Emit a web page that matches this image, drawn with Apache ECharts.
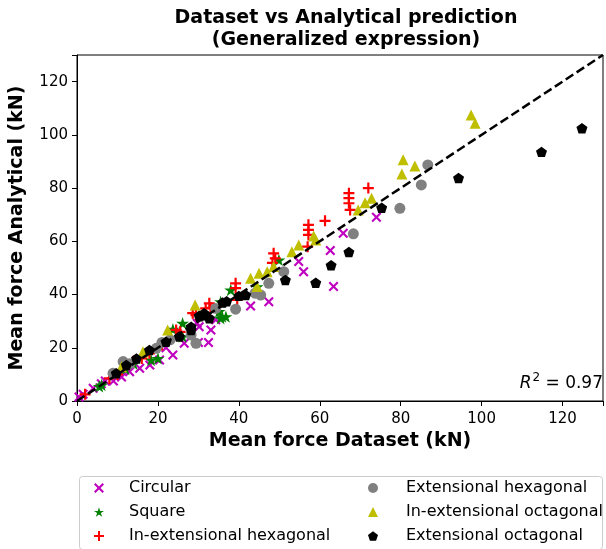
<!DOCTYPE html>
<html>
<head>
<meta charset="utf-8">
<script src="https://cdn.jsdelivr.net/npm/echarts@6/dist/echarts.min.js"></script>
<style>
    body { margin: 0; background: #fff; }
    #main { width: 606px; height: 549px; }
</style>
</head>
<body>
<div id="main"></div>
<script>
// data: [dataset, analytical]
var circular = [[0.5, 1.5], [1.5, 2.5], [4, 4.8], [6, 6.5], [7, 7.5], [9, 7.5], [11, 9], [13, 11], [15.5, 12.3], [18, 13.5],
    [20.4, 15.4], [23.7, 17.3], [22, 20], [26.5, 21.7], [30, 22], [32.5, 22], [30.2, 27.9], [33.1, 26.7], [34.3, 30.5],
    [29.7, 29.2], [42.9, 35.7], [47.4, 37.3], [54.8, 52.4], [56, 48.6], [62.6, 56.5], [63.4, 43], [65.8, 63], [74, 69]];
var square = [[5.5, 5.5], [6.1, 6], [12, 12], [14, 14], [18.3, 15.4], [20, 16], [23.7, 27], [26.1, 29.2], [26.1, 24.2],
    [35.1, 33.6], [35.5, 31.1], [36.8, 31.7], [35.9, 31.7], [35.5, 37.3], [38, 41.7], [44.5, 42.9], [49.9, 53]];
var inHex = [[2, 2.5], [8, 8.5], [10, 10], [14, 15], [16, 16], [17.9, 17.9], [21, 21], [24.5, 26.7], [25.5, 26],
    [28.6, 33], [31.8, 34.8], [29.4, 32.3], [32.7, 36.7], [33, 35], [39.2, 44.2], [39.2, 42.4], [39.6, 38],
    [48.6, 55.5], [49, 53.6], [48.3, 51.9], [57.2, 66.2], [57.2, 64.3], [57.2, 62.4], [57, 58], [61.3, 67.7],
    [67.2, 78.1], [67.2, 76.2], [67.2, 74.3], [67.5, 71.8], [72, 80]];
var exHex = [[8.9, 10.4], [11.4, 14.8], [13, 14], [19.6, 19.8], [21, 22], [23, 23], [28.2, 24.8], [29.4, 21.7],
    [30.6, 31.7], [34.3, 34.8], [39.2, 34.5], [44, 40.5], [45.4, 39.8], [47.4, 44.2], [51.1, 48.6], [68.3, 62.8],
    [79.8, 72.4], [85.1, 81.2], [86.7, 88.7]];
var inOct = [[11, 12.9], [16.3, 18.5], [22.4, 26.7], [29.2, 36.1], [42.9, 46.1], [45, 48], [47, 48.6], [48.6, 50.5],
    [44.5, 43], [53.1, 56.1], [54.8, 58.6], [58.5, 62], [59, 60.5], [69.5, 71.8], [71.2, 74.5], [72.8, 76.2],
    [80.3, 85.3], [80.6, 90.6], [83.5, 88.3], [97.4, 107.5], [98.4, 104.4]];
var exOct = [[9.7, 10.4], [12.2, 13.5], [14.7, 16], [17.9, 19.2], [22, 22.3], [25.3, 24.2], [28.2, 26.7], [28.2, 27.9],
    [30.2, 32], [31.4, 33], [31.8, 32.3], [32.7, 31.1], [36, 37], [37, 37.5], [40, 39.5], [41.7, 39.8], [51.5, 45.5],
    [59, 44.4], [62.8, 51], [67.2, 56], [75.3, 72.6], [94.3, 83.8], [114.8, 93.6], [124.8, 102.5]];
var identityLine = [[0, 0], [130, 130]];
var names = ['Circular', 'Square', 'In-extensional hexagonal', 'Extensional hexagonal', 'In-extensional octagonal', 'Extensional octagonal'];
var r2Text = '0.97';

var font = 'DejaVu Sans';
var xPath = 'path://M1.5,0 L5,3.5 L8.5,0 L10,1.5 L6.5,5 L10,8.5 L8.5,10 L5,6.5 L1.5,10 L0,8.5 L3.5,5 L0,1.5 Z';
var plusPath = 'path://M4,0 H6 V4 H10 V6 H6 V10 H4 V6 H0 V4 H4 Z';
var starPath = 'path://M10,0 L12.25,6.91 L19.51,6.91 L13.63,11.18 L15.88,18.09 L10,13.82 L4.12,18.09 L6.37,11.18 L0.49,6.91 L7.75,6.91 Z';
var pentPath = 'path://M10,0 L19.51,6.91 L15.88,18.09 L4.12,18.09 L0.49,6.91 Z';

var chartDom = document.getElementById('main');
var myChart = echarts.init(chartDom);

function scatter(name, data, symbol, size, color) {
    return {
        name: name,
        type: 'scatter',
        data: data,
        symbol: symbol,
        symbolSize: size,
        symbolKeepAspect: true,
        itemStyle: { color: color, opacity: 1 },
        silent: true
    };
}

var legendText = { fontFamily: font, fontSize: 16, color: '#000', lineHeight: 16 };
var boldName = { fontFamily: font, fontSize: 19, fontWeight: 'bold', color: '#000' };

var option = {
    animation: false,
    backgroundColor: '#fff',
    title: {
        text: 'Dataset vs Analytical prediction\n(Generalized expression)',
        left: 341,
        textAlign: 'center',
        top: 2,
        textStyle: { fontFamily: font, fontSize: 19, fontWeight: 'bold', color: '#000', lineHeight: 22 }
    },
    grid: { left: 77, right: 1, top: 55, bottom: 148, show: true, borderColor: '#000', borderWidth: 1 },
    legend: [{
        data: names.slice(0, 3),
        orient: 'vertical',
        left: 94,
        top: 480,
        padding: 0,
        itemWidth: 10,
        itemHeight: 10,
        itemGap: 8,
        selectedMode: false,
        textStyle: Object.assign({ padding: [0, 0, 0, 20] }, legendText)
    }, {
        data: names.slice(3),
        orient: 'vertical',
        left: 368,
        top: 480,
        padding: 0,
        itemWidth: 10,
        itemHeight: 10,
        itemGap: 8,
        selectedMode: false,
        textStyle: Object.assign({ padding: [0, 0, 0, 23] }, legendText)
    }],
    xAxis: {
        type: 'value',
        min: 0,
        max: 130,
        interval: 20,
        name: 'Mean force Dataset (kN)',
        nameLocation: 'middle',
        nameGap: 31,
        nameTextStyle: boldName,
        axisLine: { lineStyle: { color: '#000', width: 1 } },
        axisTick: { length: 5, lineStyle: { color: '#000' } },
        axisLabel: {
            margin: 11, fontFamily: font, fontSize: 15, color: '#000',
            formatter: function (v) { return v % 20 === 0 ? v : ''; }
        },
        splitLine: { show: false }
    },
    yAxis: {
        type: 'value',
        min: 0,
        max: 130,
        interval: 20,
        name: 'Mean force Analytical (kN)',
        nameLocation: 'middle',
        nameGap: 50,
        nameTextStyle: boldName,
        axisLine: { lineStyle: { color: '#000', width: 1 } },
        axisTick: { length: 5, lineStyle: { color: '#000' } },
        axisLabel: {
            margin: 9, fontFamily: font, fontSize: 15, color: '#000',
            formatter: function (v) { return v % 20 === 0 ? v : ''; }
        },
        splitLine: { show: false }
    },
    graphic: [{
        type: 'rect',
        left: 77,
        top: 474,
        shape: { width: 523, height: 73, r: 3 },
        style: { fill: 'none', stroke: '#ccc', lineWidth: 1 },
        silent: true
    }, {
        type: 'text',
        right: 3,
        top: 372,
        style: {
            text: '{r|R}{s|2}{n| = ' + r2Text + '}',
            fontFamily: font,
            fill: '#000',
            rich: {
                r: { fontStyle: 'italic', fontFamily: font, fontSize: 17, lineHeight: 20, verticalAlign: 'bottom' },
                s: { fontFamily: font, fontSize: 12, lineHeight: 20, verticalAlign: 'top', padding: [0, 0, 0, 1] },
                n: { fontFamily: font, fontSize: 17, lineHeight: 20, verticalAlign: 'bottom' }
            }
        }
    }],
    series: [
        scatter(names[0], circular, xPath, 10, '#bf00bf'),
        scatter(names[1], square, starPath, 13, '#008000'),
        scatter(names[2], inHex, plusPath, 11, '#ff0000'),
        scatter(names[3], exHex, 'circle', 11, '#808080'),
        scatter(names[4], inOct, 'triangle', 11, '#bfbf00'),
        scatter(names[5], exOct, pentPath, 11, '#000000'),
        {
            type: 'line',
            data: identityLine,
            symbol: 'none',
            silent: true,
            lineStyle: { color: '#000', width: 2.5, type: [9, 4] },
            z: 3
        }
    ]
};

option && myChart.setOption(option);
</script>
</body>
</html>
